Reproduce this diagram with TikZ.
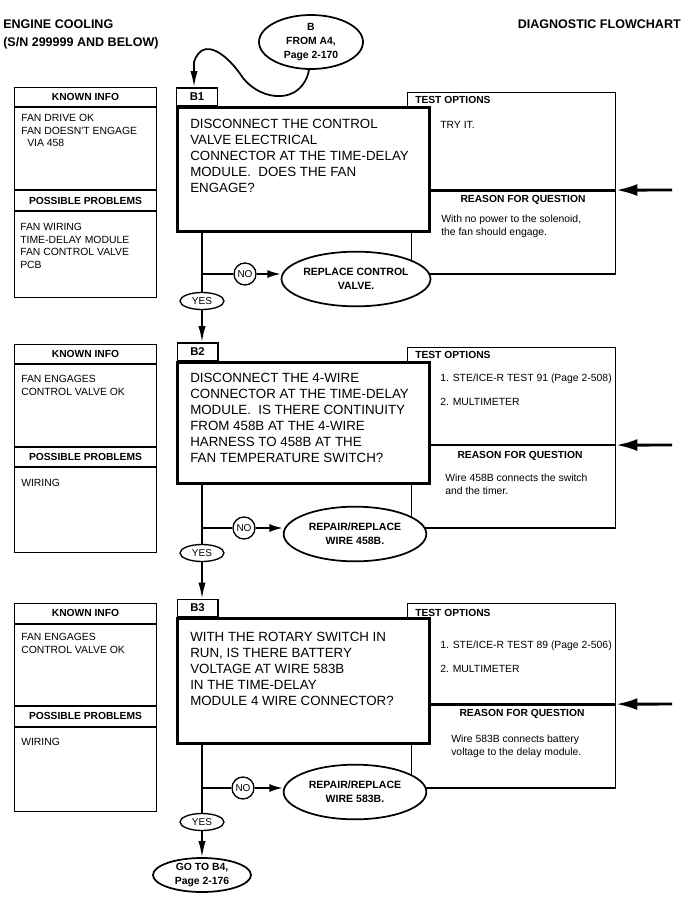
\documentclass[tikz,border=0pt]{standalone}
\usepackage{fontspec}
\setmainfont{Liberation Sans}
\usepackage{tikz}
\usetikzlibrary{arrows.meta}
\usetikzlibrary{positioning}
\usetikzlibrary{shapes.geometric}

\newcommand{\fsz}[2]{\fontsize{#1}{#2}\selectfont}

\begin{document}
\begin{tikzpicture}
[
	x = 0.75pt, y = -0.75pt,
	title/.style	= {font = \bfseries\fsz{9.4}{11}, inner sep = 0cm},
	tag/.style	= {draw, line width = 1.1pt, minimum width = 30.4pt, minimum height = 13.1pt, inner sep = 0cm, font = \bfseries\fsz{8.5}{10}},
	infobox/.style	= {draw, line width = 1.1pt, minimum width = 106.2pt, minimum height = 155.8pt, inner sep = 0cm},
	question/.style	= {draw, fill = white, line width = 2.5pt, minimum width = 188.8pt, inner sep = 0cm},
	optbox/.style	= {draw, line width = 1pt, minimum width = 155.8pt, minimum height = 72.6pt, inner sep = 0cm},
	whybox/.style	= {draw, line width = 1pt, minimum width = 152.9pt, minimum height = 62pt, inner sep = 0cm},
	heading/.style	= {font = \bfseries\fsz{7.7}{9}, inner sep = 0cm},
	body/.style	= {font = \fsz{7.8}{9.4}, align = left, anchor = north west, inner sep = 0cm},
	reason/.style	= {body, font = \fsz{7.8}{10.2}},
	asks/.style	= {font = \fsz{10}{12}, align = left, anchor = north west, inner sep = 0cm},
	action/.style	= {ellipse, draw, fill = white, line width = 1.3pt, minimum width = 107pt, minimum height = 41pt, inner sep = 0cm, align = center, font = \bfseries\fsz{7.9}{10.5}},
	link/.style	= {ellipse, draw, fill = white, line width = 1.3pt, inner sep = 0cm, align = center, font = \bfseries\fsz{7.8}{10.5}},
	answer/.style	= {circle, draw, fill = white, line width = 1pt, minimum size = 16.5pt, inner sep = 0cm, font = \fsz{7.5}{9}},
	yesbox/.style	= {ellipse, draw, fill = white, line width = 1pt, minimum width = 33pt, minimum height = 12.75pt, inner sep = 0cm, font = \fsz{7.5}{9}},
	flow/.style	= {line width = 1.3pt},
	arrowto/.style	= {flow, -{Latex[length = 12pt, width = 5.5pt]}},
	noarrow/.style	= {flow, -{Latex[length = 10pt, width = 6pt]}},
	bigin/.style	= {line width = 2.2pt, -{Latex[length = 16pt, width = 9pt]}},
]

	\useasboundingbox (0,0) rectangle (682,907);

	\node (eng) [title, anchor = west] at (3,24) {ENGINE COOLING};
	\node (sn) [title, anchor = west] at (3,43) {(S/N 299999 AND BELOW)};
	\node (diag) [title, anchor = east] at (681,24) {DIAGNOSTIC FLOWCHART};
	%
	\node (from) [link, minimum width = 78pt, minimum height = 40.5pt] at (311,42) {B\\FROM A4,\\Page 2-170};
	\node (goto) [link, minimum width = 73.5pt, minimum height = 25.5pt] at (202,875) {GO TO B4,\\Page 2-176};

	% block B1
	\node (k1) [infobox, minimum height = 157.3pt] at (85.5,192.5) {};
	\draw [line width = 1.1pt] (k1.west |- 0,107) -- (k1.east |- 0,107);
	\draw [line width = 1.1pt] (k1.west |- 0,190) -- (k1.east |- 0,190);
	\draw [line width = 1.1pt] (k1.west |- 0,211) -- (k1.east |- 0,211);
	\node (kh1) [heading] at (85.5,97) {KNOWN INFO};
	\node (ph1) [heading] at (85.5,200.5) {POSSIBLE PROBLEMS};
	\node (know1) [body] at (21,114.3) {FAN DRIVE OK\\FAN DOESN\textquotesingle T ENGAGE\\\hspace{4.5pt}VIA 458};
	\node (prob1) [body] at (20,223.3) {FAN WIRING\\TIME-DELAY MODULE\\FAN CONTROL VALVE\\PCB};
	%
	\node (t1) [optbox] at (511.5,141) {};
	\node (r1) [whybox] at (513.5,232.7) {};
	\node (lab1) [tag] at (197,96.5) {B1};
	\node (q1) [question, minimum height = 92.8pt] at (303.5,169.5) {};
	\draw [line width = 1.6pt] (q1.east |- t1.south) -- (t1.south east);
	\node (th1) [heading, anchor = west] at (415,100) {TEST OPTIONS};
	\node (rh1) [heading] at (523,200) {REASON FOR QUESTION};
	\node (ask1) [asks] at (190,119.2) {DISCONNECT THE CONTROL\\VALVE ELECTRICAL\\CONNECTOR AT THE TIME-DELAY\\MODULE.\ \ DOES THE FAN\\ENGAGE?};
	\node (opt1) [body] at (440,121.3) {TRY IT.};
	\node (why1) [reason] at (441,214.3) {With no power to the solenoid,\\the fan should engage.};
	%
	\node (fix1) [action] at (356,279) {REPLACE CONTROL\\VALVE.};
	\node (no1) [answer] at (245,274) {NO};
	\node (yes1) [yesbox] at (202,301) {YES};
	\coordinate (in1) at (672,190);

	% block B2
	\node (k2) [infobox] at (85.5,448.5) {};
	\draw [line width = 1.1pt] (k2.west |- 0,364) -- (k2.east |- 0,364);
	\draw [line width = 1.1pt] (k2.west |- 0,447) -- (k2.east |- 0,447);
	\draw [line width = 1.1pt] (k2.west |- 0,467) -- (k2.east |- 0,467);
	\node (kh2) [heading] at (85.5,354) {KNOWN INFO};
	\node (ph2) [heading] at (85.5,457) {POSSIBLE PROBLEMS};
	\node (know2) [body] at (21,375.3) {FAN ENGAGES\\CONTROL VALVE OK};
	\node (prob2) [body] at (21,479.3) {WIRING};
	%
	\node (t2) [optbox] at (511.5,396) {};
	\node (r2) [whybox] at (513.5,486.7) {};
	\node (lab2) [tag] at (197.5,351.5) {B2};
	\node (q2) [question, minimum height = 90.5pt] at (303.5,423) {};
	\draw [line width = 1.6pt] (q2.east |- t2.south) -- (t2.south east);
	\node (th2) [heading, anchor = west] at (415,355) {TEST OPTIONS};
	\node (rh2) [heading] at (520,456) {REASON FOR QUESTION};
	\node (ask2) [asks] at (190,373.2) {DISCONNECT THE 4-WIRE\\CONNECTOR AT THE TIME-DELAY\\MODULE.\ \ IS THERE CONTINUITY\\FROM 458B AT THE 4-WIRE\\HARNESS TO 458B AT THE\\FAN TEMPERATURE SWITCH?};
	\node (opt2) [body] at (440,373.3) {1. STE/ICE-R TEST 91 (Page 2-508)\\[9pt]2. MULTIMETER};
	\node (why2) [reason] at (445,473.3) {Wire 458B connects the switch\\and the timer.};
	%
	\node (fix2) [action] at (355,534) {REPAIR/REPLACE\\WIRE 458B.};
	\node (no2) [answer] at (244,528) {NO};
	\node (yes2) [yesbox] at (202,553) {YES};
	\coordinate (in2) at (672,445);

	% block B3
	\node (k3) [infobox] at (85.5,707.5) {};
	\draw [line width = 1.1pt] (k3.west |- 0,624) -- (k3.east |- 0,624);
	\draw [line width = 1.1pt] (k3.west |- 0,706) -- (k3.east |- 0,706);
	\draw [line width = 1.1pt] (k3.west |- 0,727) -- (k3.east |- 0,727);
	\node (kh3) [heading] at (85.5,613) {KNOWN INFO};
	\node (ph3) [heading] at (85.5,716) {POSSIBLE PROBLEMS};
	\node (know3) [body] at (21,633.3) {FAN ENGAGES\\CONTROL VALVE OK};
	\node (prob3) [body] at (21,738.3) {WIRING};
	%
	\node (t3) [optbox, minimum height = 74.9pt] at (511.5,653.5) {};
	\node (r3) [whybox] at (513.5,746.7) {};
	\node (lab3) [tag] at (197.5,608) {B3};
	\node (q3) [question, minimum height = 93.5pt] at (303.5,681) {};
	\draw [line width = 1.6pt] (q3.east |- t3.south) -- (t3.south east);
	\node (th3) [heading, anchor = west] at (415,613) {TEST OPTIONS};
	\node (rh3) [heading] at (522,714) {REASON FOR QUESTION};
	\node (ask3) [asks] at (190,632.2) {WITH THE ROTARY SWITCH IN\\RUN, IS THERE BATTERY\\VOLTAGE AT WIRE 583B\\IN THE TIME-DELAY\\MODULE 4 WIRE CONNECTOR?};
	\node (opt3) [body] at (440,640.3) {1. STE/ICE-R TEST 89 (Page 2-506)\\[9pt]2. MULTIMETER};
	\node (why3) [reason] at (451,734.3) {Wire 583B connects battery\\voltage to the delay module.};
	%
	\node (fix3) [action] at (355,792) {REPAIR/REPLACE\\WIRE 583B.};
	\node (no3) [answer] at (243,788) {NO};
	\node (yes3) [yesbox] at (202,822) {YES};
	\coordinate (in3) at (672,704);

	% connectors
	\coordinate (bend) at (194,62);
	\draw [arrowto] (from.266) .. controls (302,105) and (262,102) .. (243,78) .. controls (228,55) and (203,35) .. (bend) -- (bend |- lab1.north);
	%
	\draw [flow] (q1.south -| yes1) -- (yes1.north);
	\draw [flow] (yes1 |- no1) -- (no1.west);
	\draw [noarrow] (no1.east) -- (no1 -| fix1.west);
	\draw [arrowto] (yes1.south) -- (yes1 |- lab2.north);
	\draw [bigin] (in1) -- (t1.south east);
	%
	\draw [flow] (q2.south -| yes2) -- (yes2.north);
	\draw [flow] (yes2 |- no2) -- (no2.west);
	\draw [noarrow] (no2.east) -- (no2 -| fix2.west);
	\draw [arrowto] (yes2.south) -- (yes2 |- lab3.north);
	\draw [bigin] (in2) -- (t2.south east);
	%
	\draw [flow] (q3.south -| yes3) -- (yes3.north);
	\draw [flow] (yes3 |- no3) -- (no3.west);
	\draw [noarrow] (no3.east) -- (no3 -| fix3.west);
	\draw [arrowto] (yes3.south) -- (goto.north);
	\draw [bigin] (in3) -- (t3.south east);

\end{tikzpicture}
\end{document}
